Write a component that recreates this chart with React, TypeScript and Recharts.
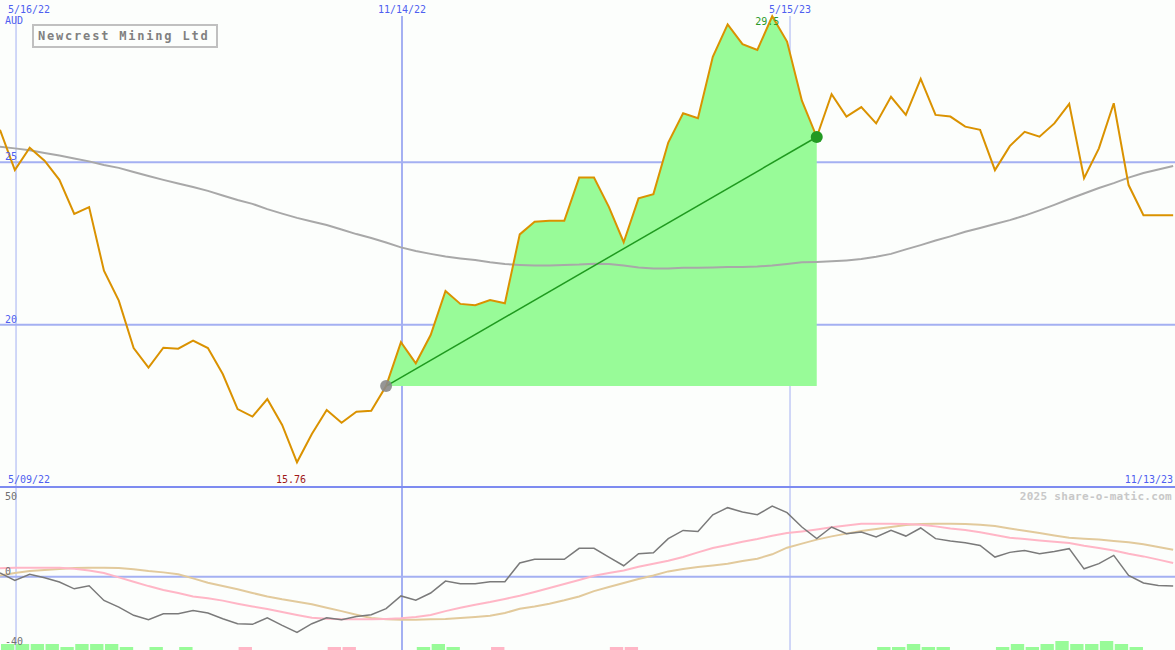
import React from 'react'
import { ComposedChart, Line, Area, Bar, Cell, XAxis, YAxis, CartesianGrid, ReferenceDot } from 'recharts'

// weekly closes, 5/09/22 .. 11/13/23 (index = week number)
const price = [
  26.0, 24.76, 25.45, 25.05, 24.46, 23.41, 23.62, 21.66, 20.74, 19.28,
  18.68, 19.29, 19.26, 19.51, 19.28, 18.48, 17.4, 17.17, 17.71, 16.91,
  15.76, 16.63, 17.37, 16.98, 17.32, 17.35, 18.11, 19.46, 18.81, 19.68,
  21.04, 20.64, 20.6, 20.76, 20.66, 22.78, 23.17, 23.2, 23.2, 24.53,
  24.53, 23.63, 22.54, 23.89, 24.02, 25.61, 26.51, 26.36, 28.25, 29.25,
  28.64, 28.46, 29.5, 28.72, 26.9, 25.78, 27.1, 26.41, 26.7, 26.2,
  27.02, 26.46, 27.57, 26.46, 26.41, 26.1, 26.0, 24.76, 25.5, 25.94,
  25.79, 26.2, 26.8, 24.51, 25.43, 26.82, 24.3, 23.37, 23.37, 23.37,
]

// long moving average (grey)
const movingAvg = [
  25.48, 25.43, 25.37, 25.29, 25.21, 25.12, 25.03, 24.92, 24.83, 24.7,
  24.58, 24.46, 24.35, 24.24, 24.12, 23.98, 23.84, 23.72, 23.56, 23.42,
  23.29, 23.18, 23.07, 22.93, 22.79, 22.67, 22.53, 22.38, 22.27, 22.18,
  22.1, 22.04, 21.99, 21.92, 21.87, 21.84, 21.82, 21.82, 21.84, 21.85,
  21.88, 21.87, 21.82, 21.76, 21.73, 21.73, 21.75, 21.75, 21.76, 21.78,
  21.78, 21.79, 21.82, 21.87, 21.92, 21.93, 21.95, 21.98, 22.02, 22.09,
  22.18, 22.32, 22.45, 22.59, 22.72, 22.86, 22.98, 23.1, 23.22, 23.36,
  23.52, 23.69, 23.87, 24.04, 24.21, 24.36, 24.53, 24.67, 24.78, 24.89,
]

// lower panel indicators
const momentum = [
  2.3, -2.3, 1.5, -0.6, -3.3, -7.5, -5.6, -14.7, -18.8, -23.9,
  -26.6, -22.9, -22.9, -21.0, -22.5, -26.0, -29.1, -29.5, -25.4, -30.1,
  -34.5, -29.1, -25.4, -26.6, -24.6, -23.5, -19.8, -11.9, -14.6, -10.1,
  -2.7, -4.3, -4.3, -3.1, -3.1, 8.5, 10.8, 10.8, 10.8, 17.6,
  17.6, 12.2, 6.8, 14.3, 14.9, 23.6, 28.7, 28.1, 38.4, 42.8,
  40.1, 38.4, 43.8, 39.7, 30.8, 23.6, 30.8, 26.6, 27.7, 24.6,
  28.7, 25.2, 30.2, 23.6, 22.1, 21.1, 19.4, 12.2, 15.1, 16.3,
  14.3, 15.7, 17.4, 4.9, 8.1, 13.2, 0.8, -3.9, -5.4, -5.8,
]

const fastSignal = [
  5.2, 5.6, 5.6, 5.6, 5.6, 5.0, 3.9, 2.3, -0.4, -3.1,
  -5.8, -8.2, -10.1, -12.2, -13.4, -14.8, -16.7, -18.4, -20.0, -21.9,
  -23.7, -25.4, -26.0, -26.4, -26.4, -26.4, -26.2, -25.8, -25.0, -23.7,
  -21.3, -19.2, -17.3, -15.7, -13.8, -11.8, -9.5, -7.0, -4.5, -2.0,
  0.6, 2.3, 3.9, 6.2, 8.1, 9.9, 12.2, 15.1, 17.8, 19.6,
  21.7, 23.4, 25.4, 27.1, 28.1, 29.3, 30.6, 31.8, 32.9, 32.9,
  32.9, 32.7, 32.2, 31.2, 29.9, 28.9, 27.5, 25.8, 24.2, 23.4,
  22.5, 21.7, 20.9, 19.2, 17.8, 16.3, 14.3, 12.6, 10.6, 8.5,
]

const slowSignal = [
  0.8, 2.3, 3.5, 4.2, 4.8, 5.4, 5.6, 5.6, 5.4, 4.6,
  3.5, 2.7, 1.5, -1.0, -3.7, -5.8, -7.8, -10.1, -12.2, -14.0,
  -15.5, -17.1, -19.2, -21.3, -23.5, -25.6, -26.4, -26.6, -26.6, -26.4,
  -26.2, -25.6, -25.0, -24.2, -22.5, -19.8, -18.4, -16.7, -14.6, -12.2,
  -8.9, -6.4, -3.9, -1.4, 0.8, 3.3, 4.8, 6.0, 7.0, 8.1,
  9.7, 11.2, 13.9, 18.0, 20.5, 23.0, 25.0, 26.7, 28.3, 29.6,
  30.8, 32.0, 32.7, 32.9, 32.9, 32.7, 32.2, 31.4, 29.9, 28.5,
  27.1, 25.6, 24.2, 23.6, 23.0, 22.1, 21.3, 20.1, 18.4, 16.7,
]

// small signed blocks along the bottom (green up / pink down)
const flow = [
  2, 2, 2, 2, 1, 2, 2, 2, 1, 0,
  1, 0, 1, 0, 0, 0, -1, 0, 0, 0,
  0, 0, -1, -1, 0, 0, 0, 0, 1, 2,
  1, 0, 0, -1, 0, 0, 0, 0, 0, 0,
  0, -1, -1, 0, 0, 0, 0, 0, 0, 0,
  0, 0, 0, 0, 0, 0, 0, 0, 0, 1,
  1, 2, 1, 1, 0, 0, 0, 1, 2, 1,
  2, 3, 2, 2, 3, 2, 1, 0, 0, 0,
]

const tickLabels = ['5/16/22', '11/14/22', '5/15/23']
const tickWeeks = [1.08, 27.07, 53.2]
const priceTicks = [20, 25]
const lowTicks = [50, 0, -40]
const startLabel = '5/09/22'
const endLabel = '11/13/23'
const title = 'Newcrest Mining Ltd'
const gainFrom = 26
const gainTo = 55

const W = 1175
const TOP_H = 487
const LOW_H = 163
const PX_PER_WEEK = 14.85
const X_MAX = W / PX_PER_WEEK
const P_MIN = 15
const P_MAX = 30
const L_MIN = -45.4
const L_MAX = 55.6

const BG = '#fcfefc'
const GRID = '#a4b0f2'
const BLUE = '#4f5ff0'
const GREEN_FILL = '#98fb98'
const PINK = '#ffb6c6'
const FONT = '"DejaVu Sans Mono", monospace'

const rows = price.map((p, i) => ({
  i,
  price: p,
  ma: movingAvg[i],
  gain: i >= gainFrom && i <= gainTo ? p : null,
  trend: i === gainFrom || i === gainTo ? p : null,
}))

const lowRows = momentum.map((m, i) => ({
  i,
  mom: m,
  fast: fastSignal[i],
  slow: slowSignal[i],
  flow: flow[i] === 0 ? null : Math.abs(flow[i]),
  up: flow[i] > 0,
}))

const maxP = Math.max(...price)
const minP = Math.min(...price)
const maxI = price.indexOf(maxP)
const minI = price.indexOf(minP)

const priceY = (v: number) => ((P_MAX - v) / (P_MAX - P_MIN)) * TOP_H
const lowY = (v: number) => TOP_H + ((L_MAX - v) / (L_MAX - L_MIN)) * LOW_H

const vertLine = (top: number) => (p: any) => (
  <line
    key={`v-${p.index}-${p.x1}`}
    x1={p.x1}
    x2={p.x2}
    y1={top}
    y2={p.y2}
    stroke={GRID}
    strokeWidth={Math.abs(p.x1 - tickWeeks[1] * PX_PER_WEEK) < 3 ? 2 : 1}
  />
)

const margin = { top: 0, right: 0, bottom: 0, left: 0 }

export default function App() {
  return (
    <div style={{ position: 'relative', width: W, height: TOP_H + LOW_H, background: BG, overflow: 'hidden' }}>
      <style>{'body{margin:0}'}</style>
      <div style={{ position: 'absolute', left: 0, top: 0 }}>
        <ComposedChart width={W} height={TOP_H} data={rows} margin={margin}>
          <XAxis dataKey="i" type="number" domain={[0, X_MAX]} hide allowDataOverflow />
          <YAxis type="number" domain={[P_MIN, P_MAX]} hide allowDataOverflow />
          <CartesianGrid
            horizontalValues={priceTicks}
            verticalValues={tickWeeks}
            stroke={GRID}
            strokeWidth={2}
            vertical={vertLine(16)}
          />
          <Area
            type="linear"
            dataKey="gain"
            baseValue={price[gainFrom]}
            stroke="none"
            fill={GREEN_FILL}
            fillOpacity={1}
            activeDot={false}
            isAnimationActive={false}
          />
          <Line type="linear" dataKey="ma" stroke="#a8a8a8" strokeWidth={2} dot={false} activeDot={false} isAnimationActive={false} />
          <Line type="linear" dataKey="trend" connectNulls stroke="#1f9a1f" strokeWidth={1.5} dot={false} activeDot={false} isAnimationActive={false} />
          <Line type="linear" dataKey="price" stroke="#da9200" strokeWidth={2} dot={false} activeDot={false} isAnimationActive={false} />
          <ReferenceDot x={gainFrom} y={price[gainFrom]} r={6} fill="#8a8a8a" fillOpacity={0.9} stroke="none" />
          <ReferenceDot x={gainTo} y={price[gainTo]} r={6} fill="#229a22" stroke="none" />
        </ComposedChart>
      </div>
      <div style={{ position: 'absolute', left: 0, top: TOP_H }}>
        <ComposedChart width={W} height={LOW_H} data={lowRows} margin={margin}>
          <XAxis dataKey="i" type="number" domain={[0, X_MAX]} hide allowDataOverflow />
          <XAxis xAxisId="bar" dataKey="i" type="number" domain={[-0.5, X_MAX - 0.5]} hide allowDataOverflow />
          <YAxis type="number" domain={[L_MIN, L_MAX]} hide allowDataOverflow />
          <YAxis yAxisId="vol" type="number" domain={[0, LOW_H / 3]} hide allowDataOverflow />
          <CartesianGrid
            horizontalValues={[0]}
            verticalValues={tickWeeks}
            stroke={GRID}
            strokeWidth={2}
            vertical={vertLine(0)}
          />
          <Bar xAxisId="bar" yAxisId="vol" dataKey="flow" barSize={15} isAnimationActive={false}>
            {lowRows.map((r) => (
              <Cell key={r.i} fill={r.up ? GREEN_FILL : PINK} />
            ))}
          </Bar>
          <Line type="linear" dataKey="slow" stroke="#e2ca9c" strokeWidth={2} dot={false} activeDot={false} isAnimationActive={false} />
          <Line type="linear" dataKey="fast" stroke={PINK} strokeWidth={2} dot={false} activeDot={false} isAnimationActive={false} />
          <Line type="linear" dataKey="mom" stroke="#7a7a7a" strokeWidth={1.5} dot={false} activeDot={false} isAnimationActive={false} />
        </ComposedChart>
      </div>
      <svg
        width={W}
        height={TOP_H + LOW_H}
        style={{ position: 'absolute', left: 0, top: 0, pointerEvents: 'none' }}
        fontFamily={FONT}
      >
        <line x1={0} x2={W} y1={TOP_H} y2={TOP_H} stroke="#7d8bf0" strokeWidth={2} />
        <text x={8} y={13} fontSize={10} fill={BLUE}>{tickLabels[0]}</text>
        <text x={5} y={24} fontSize={10} fill={BLUE}>AUD</text>
        {tickLabels.slice(1).map((t, k) => (
          <text key={t} x={tickWeeks[k + 1] * PX_PER_WEEK} y={13} fontSize={10} fill={BLUE} textAnchor="middle">
            {t}
          </text>
        ))}
        {priceTicks.map((v) => (
          <text key={v} x={5} y={priceY(v) - 2} fontSize={10} fill={BLUE}>{v}</text>
        ))}
        <rect x={33} y={25} width={184} height={22} fill={BG} stroke="#c0c0c0" strokeWidth={2} />
        <text x={38} y={40} fontSize={12} fontWeight="bold" fill="#808080" letterSpacing={1.8}>
          {title}
        </text>
        <text x={maxI * PX_PER_WEEK - 5} y={25} fontSize={10} fill="#2a9a2a" textAnchor="middle">
          {maxP.toFixed(1)}
        </text>
        <text x={minI * PX_PER_WEEK - 6} y={483} fontSize={10} fill="#a01818" textAnchor="middle">
          {minP.toFixed(2)}
        </text>
        <text x={8} y={483} fontSize={10} fill={BLUE}>{startLabel}</text>
        <text x={1173} y={483} fontSize={10} fill={BLUE} textAnchor="end">{endLabel}</text>
        <text x={1172} y={500} fontSize={11} fontWeight="bold" fill="#c8c8c8" textAnchor="end" letterSpacing={0.3}>
          2025 share-o-matic.com
        </text>
        {lowTicks.map((v) => (
          <text key={v} x={5} y={Math.min(lowY(v) + (v === 0 ? -2 : 4), 646)} fontSize={10} fill="#707070">{v}</text>
        ))}
      </svg>
    </div>
  )
}
